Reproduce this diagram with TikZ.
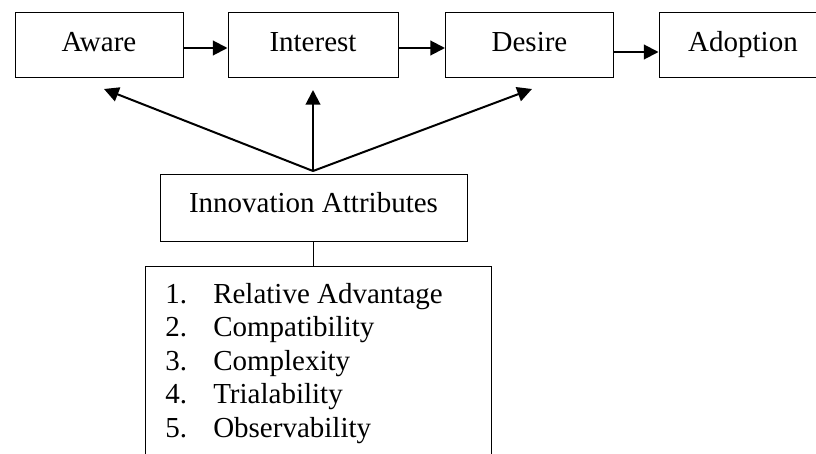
\documentclass[tikz,border=0pt]{standalone}
\usepackage{fontspec}
\setmainfont{Liberation Serif}
\usepackage{tikz}
\usetikzlibrary{arrows.meta}
\usetikzlibrary{positioning}
\tikzset{>={Triangle[length=11pt,width=11pt]}}
\tikzstyle{stage} = [rectangle, draw=black, line width=.75pt, minimum width=126pt, minimum height=48pt, text height=15pt, text depth=4.5pt, inner sep=0pt]
\tikzstyle{flow} = [->, line width=1.5pt]

\begin{document}
\begin{tikzpicture}[x=.75pt, y=-.75pt, font=\fontsize{21.75}{25.1}\selectfont]
\useasboundingbox (0,0) rectangle (816,453);
\clip (0,0) rectangle (816,453);
% adoption stages
\node [stage] (Aw) at (99,45) {Aware};
\node [stage, minimum width=127.5pt] (In) at (313,45) {Interest};
\node [stage] (De) at (529.5,45) {Desire};
\node [stage] (Ad) at (743,45) {Adoption};
\draw [flow] ([yshift=-2.25pt]Aw.east) to ([yshift=-2.25pt]In.west);
\draw [flow] ([yshift=-2.25pt]In.east) to ([yshift=-2.25pt]De.west);
\draw [flow] ([yshift=-5.25pt]De.east) to ([yshift=-5.25pt]Ad.west);
% attributes
\node [rectangle, draw=black, line width=.75pt, minimum width=230.25pt, minimum height=50.25pt, text depth=7.5pt] (IA) at (313.5,207.5) {Innovation Attributes};
\coordinate (fan) at (313,171);
\coordinate (toAw) at (104,89);
\coordinate (toIn) at (313,90);
\coordinate (toDe) at (532,89);
\draw [flow] (fan) to (toAw);
\draw [flow] (fan) to (toIn);
\draw [flow] (fan) to (toDe);
\node [rectangle, draw=black, line width=.75pt, minimum width=259.5pt, minimum height=180pt, anchor=north] (list) at (318,266) {};
\draw [line width=.75pt] (IA.south) to (IA.south |- list.north);
\foreach \n/\attname in {1/Relative Advantage, 2/Compatibility, 3/Complexity, 4/Trialability, 5/Observability}
  \node [anchor=base west, inner sep=0pt] (attr\n) at (165,{303+33.5*(\n-1)}) {\makebox[36pt][l]{\n.}\attname};
\end{tikzpicture}
\end{document}
